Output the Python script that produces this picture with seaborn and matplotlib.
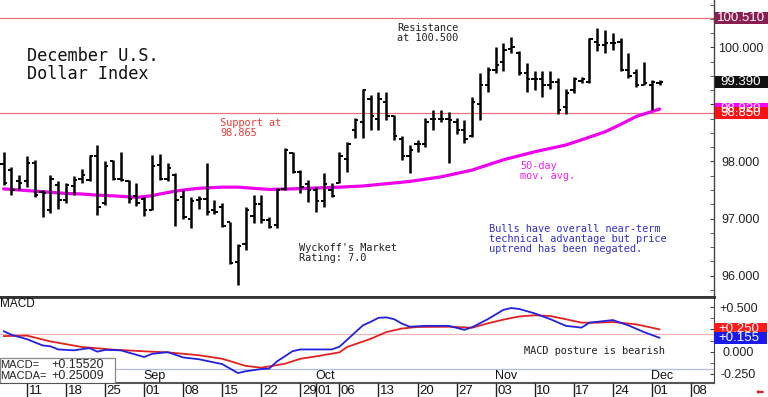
import numpy as np
import pandas as pd
import matplotlib
matplotlib.use("Agg")
import matplotlib.pyplot as plt
import matplotlib.transforms as mtransforms
from matplotlib.patches import Rectangle
from matplotlib.ticker import MultipleLocator
import seaborn as sns

# daily bars, Aug 6 .. Dec 2 2025
days = pd.bdate_range("2025-08-06", "2025-12-02")
opens = [97.95, 97.85, 97.66, 97.65, 97.97, 97.47, 97.15, 97.59, 97.33, 97.57,
         97.70, 97.68, 98.09, 97.27, 98.00, 97.70, 97.66, 97.39, 97.34, 97.15,
         97.94, 97.70, 97.76, 97.38, 97.00, 97.33, 97.35, 97.15, 97.21, 96.93,
         96.24, 96.55, 97.05, 97.25, 96.97, 96.88, 97.52, 98.15, 97.82, 97.60,
         97.50, 97.30, 97.50, 97.63, 98.05, 98.55, 98.70, 99.10, 98.75, 99.05,
         98.80, 98.40, 98.10, 98.30, 98.30, 98.75, 98.75, 98.75, 98.70, 98.55,
         98.45, 99.00, 99.35, 99.60, 99.75, 99.98, 99.90, 99.55, 99.45, 99.45,
         99.35, 99.40, 98.95, 99.25, 99.42, 99.40, 100.10, 100.05, 100.07, 100.10,
         99.60, 99.55, 99.35, 99.35, 99.38]
highs = [98.17, 97.90, 97.76, 98.09, 98.03, 97.50, 97.76, 97.65, 97.63, 97.75,
         97.86, 98.11, 98.29, 98.00, 98.03, 98.17, 97.68, 97.62, 97.37, 98.11,
         98.14, 97.97, 97.79, 97.50, 97.37, 97.39, 97.98, 97.33, 97.27, 96.94,
         96.55, 97.21, 97.41, 97.41, 97.03, 97.54, 98.24, 98.17, 97.85, 97.68,
         97.55, 97.80, 97.62, 98.17, 98.34, 98.76, 99.28, 99.17, 99.22, 99.22,
         98.82, 98.44, 98.29, 98.38, 98.76, 98.90, 98.90, 98.87, 98.76, 98.73,
         99.14, 99.55, 99.66, 100.01, 100.07, 100.19, 99.93, 99.72, 99.58, 99.58,
         99.58, 99.46, 99.28, 99.49, 99.48, 100.16, 100.34, 100.31, 100.25, 100.16,
         99.90, 99.63, 99.75, 99.43, 99.43]
lows = [97.59, 97.41, 97.50, 97.56, 97.37, 97.03, 97.10, 97.16, 97.28, 97.41,
        97.63, 97.65, 97.06, 97.24, 97.68, 97.65, 97.27, 97.22, 97.04, 97.15,
        97.68, 97.65, 96.87, 97.00, 96.83, 97.16, 97.06, 97.08, 96.85, 96.21,
        95.83, 96.45, 96.92, 96.92, 96.83, 96.83, 97.50, 97.80, 97.45, 97.29,
        97.11, 97.20, 97.38, 97.62, 97.82, 98.41, 98.41, 98.55, 98.55, 98.73,
        98.38, 98.03, 97.79, 98.17, 98.26, 98.55, 98.70, 97.97, 98.49, 98.32,
        98.43, 98.73, 99.22, 99.55, 99.58, 99.90, 99.52, 99.22, 99.25, 99.14,
        99.28, 98.84, 98.84, 99.20, 99.37, 99.37, 99.93, 99.90, 99.96, 99.58,
        99.46, 99.31, 99.34, 98.91, 99.34]
closes = [97.62, 97.50, 97.63, 97.98, 97.41, 97.44, 97.70, 97.33, 97.59, 97.68,
          97.76, 98.09, 97.21, 97.92, 97.70, 97.68, 97.34, 97.27, 97.15, 97.92,
          97.70, 97.88, 97.33, 97.02, 97.30, 97.35, 97.12, 97.12, 96.86, 96.22,
          96.51, 97.15, 97.25, 96.97, 96.85, 97.50, 98.20, 97.82, 97.55, 97.50,
          97.30, 97.60, 97.40, 98.10, 98.30, 98.72, 99.25, 98.80, 99.10, 98.80,
          98.45, 98.10, 98.20, 98.30, 98.70, 98.75, 98.75, 98.73, 98.55, 98.40,
          99.05, 99.35, 99.60, 99.70, 99.95, 100.00, 99.55, 99.45, 99.45, 99.35,
          99.40, 98.90, 99.20, 99.45, 99.45, 100.15, 100.05, 100.07, 100.07, 99.60,
          99.50, 99.35, 99.38, 99.40, 99.39]

# 50-day moving average, read at some bar numbers
ma_day = [0, 3, 5, 8, 10, 12, 15, 17, 19, 20, 22, 23, 25, 28, 30, 32, 34, 37, 39,
          43, 46, 49, 52, 54, 56, 58, 60, 62, 64, 66, 68, 70, 72, 74, 77, 79, 81, 84]
ma_val = [97.52, 97.49, 97.47, 97.44, 97.43, 97.41, 97.39, 97.37, 97.40, 97.43,
          97.48, 97.50, 97.53, 97.55, 97.55, 97.53, 97.51, 97.52, 97.53,
          97.55, 97.57, 97.61, 97.65, 97.69, 97.73, 97.79, 97.85, 97.94, 98.03,
          98.10, 98.17, 98.23, 98.29, 98.38, 98.52, 98.65, 98.79, 98.92]

# MACD (blue) and its average (red)
macd_day = [0, 1, 3, 5, 6, 7, 9, 11, 12, 13, 15, 18, 19, 21, 23, 25, 28, 30, 31, 33,
            34, 35, 37, 38, 42, 43, 44, 46, 47, 48, 49, 50, 51, 52, 54, 57, 59, 60,
            62, 64, 65, 66, 68, 70, 72, 74, 75, 78, 80, 82, 84]
macd_val = [0.23, 0.19, 0.14, 0.07, 0.06, 0.025, 0.015, 0.04, 0.0, 0.02, 0.015, -0.06,
            -0.025, -0.005, -0.065, -0.085, -0.14, -0.24, -0.22, -0.195, -0.19, -0.11,
            0.005, 0.025, 0.025, 0.055, 0.135, 0.295, 0.335, 0.38, 0.385, 0.365, 0.315,
            0.28, 0.29, 0.29, 0.245, 0.275, 0.365, 0.47, 0.49, 0.48, 0.43, 0.365, 0.29,
            0.27, 0.325, 0.355, 0.295, 0.22, 0.155]
sig_day = [0, 3, 6, 10, 14, 18, 21, 25, 28, 31, 33, 36, 38, 40, 43, 44, 47, 49, 51,
           53, 57, 60, 62, 64, 66, 68, 70, 72, 74, 76, 78, 81, 84]
sig_val = [0.175, 0.18, 0.115, 0.053, 0.023, 0.004, -0.008, -0.04, -0.08, -0.16, -0.18,
           -0.136, -0.08, -0.053, -0.008, 0.053, 0.144, 0.22, 0.26, 0.277, 0.28, 0.269,
           0.318, 0.36, 0.395, 0.409, 0.40, 0.364, 0.326, 0.326, 0.333, 0.307, 0.25]

resistance = 100.51
support = 98.85
last_close = 99.39
price_ticks = [96, 97, 98, 99, 100]
price_tick_labels = ["96.000", "97.000", "98.000", "", "100.000"]  # 99 sits under the boxes
macd_ticks = [0.5, 0.25, 0.0, -0.25]
macd_tick_labels = ["+0.500", "", "0.000", "-0.250"]

sns.set_style("white")
plt.rcParams["font.family"] = ["Liberation Sans", "DejaVu Sans"]
MONO = "DejaVu Sans Mono"

W, H = 768, 397
fig = plt.figure(figsize=(W / 100, H / 100), dpi=100)
axw = 714 / W
ax = fig.add_axes([0, 1 - 297 / H, axw, 297 / H])
mx = fig.add_axes([0, 1 - 383 / H, axw, 86 / H])
dx = fig.add_axes([0, 0, axw, 14 / H])

x = np.arange(len(days))
xlim = (-0.46, 90.96)

# price bars
ax.vlines(x, lows, highs, color="black", lw=1.8, zorder=3)
ax.hlines(opens, x - 0.42, x, color="black", lw=1.4, zorder=3)
ax.hlines(closes, x, x + 0.42, color="black", lw=1.4, zorder=3)
sns.lineplot(x=ma_day, y=ma_val, ax=ax, color="#ee00ee", lw=2.3, zorder=2)
ax.axhline(resistance, color="#e8707c", lw=0.9, zorder=1)
ax.axhline(support, color="#e8707c", lw=0.9, zorder=1)

ax.set_xlim(xlim)
ax.set_ylim(95.623, 100.833)
ax.set_xticks([])
ax.set_xlabel("")
ax.set_ylabel("")
ax.yaxis.tick_right()
ax.set_yticks(price_ticks)
ax.set_yticklabels(price_tick_labels)
ax.yaxis.set_minor_locator(MultipleLocator(0.25))
ax.tick_params(axis="y", which="both", direction="in", length=3, color="#444",
               labelsize=9, labelcolor="#222", pad=19)
for lab in ax.get_yticklabels():
    lab.set_ha("center")
for s in ["left", "top"]:
    ax.spines[s].set_visible(False)
ax.spines["right"].set_color("#444")
ax.spines["right"].set_linewidth(1.0)
ax.spines["bottom"].set_color("#333")
ax.spines["bottom"].set_linewidth(2.0)

# value boxes on the price scale
btr = mtransforms.blended_transform_factory(ax.transAxes, ax.transData)
bw = 53 / 714
bh = 12 / 57
for val, txt, fc in [(resistance, "100.510", "#8c1d50"),
                     (last_close, "99.390", "#111111"),
                     (ma_val[-1], "98.920", "#ff00ff"),
                     (support, "98.850", "#ff1010")]:
    ax.add_patch(Rectangle((1.0015, val - bh / 2), bw, bh, transform=btr, fc=fc,
                           ec="none", clip_on=False, zorder=6))
    ax.text(1 + 27 / 714, val, txt, transform=btr, ha="center", va="center",
            color="white", fontsize=9.5, clip_on=False, zorder=7)

# MACD panel
mx.axhline(0.2, color="#f5b0b8", lw=0.9)
mx.axhline(-0.2, color="#b8b8f0", lw=0.9)
sns.lineplot(x=sig_day, y=sig_val, ax=mx, color="#e02222", lw=1.3)
sns.lineplot(x=macd_day, y=macd_val, ax=mx, color="#2222dd", lw=1.3)
mx.set_xlim(xlim)
mx.set_ylim(-0.352, 0.614)
mx.set_xticks([])
mx.set_xlabel("")
mx.set_ylabel("")
mx.yaxis.tick_right()
mx.set_yticks(macd_ticks)
mx.set_yticklabels(macd_tick_labels)
mx.yaxis.set_minor_locator(MultipleLocator(0.125))
mx.tick_params(axis="y", which="both", direction="in", length=3, color="#444",
               labelsize=9, labelcolor="#222", pad=17.5)
for lab in mx.get_yticklabels():
    lab.set_ha("center")
mx.spines["left"].set_visible(False)
mx.spines["top"].set_color("#333")
mx.spines["top"].set_linewidth(2.0)
mx.spines["bottom"].set_color("#555")
mx.spines["bottom"].set_linewidth(1.5)
mx.spines["right"].set_color("#444")

mtr = mtransforms.blended_transform_factory(mx.transAxes, mx.transData)
mh = 12 / 88
for val, txt, fc in [(sig_val[-1], "+0.250", "#ff1a1a"), (macd_val[-1], "+0.155", "#1a1aee")]:
    mx.add_patch(Rectangle((1.0, val - mh / 2), bw, mh, transform=mtr, fc=fc,
                           ec="none", clip_on=False, zorder=6))
    mx.text(1 + 25 / 714, val, txt, transform=mtr, ha="center", va="center",
            color="white", fontsize=9.5, clip_on=False, zorder=7)

mx.text(0.0, 0.985, "MACD", transform=mx.transAxes, ha="left", va="top",
        fontsize=8.5, color="#111")
mx.add_patch(Rectangle((0, 0), 115 / 714, 25 / 86, transform=mx.transAxes,
                       fc="white", ec="#888", lw=0.9, zorder=5))
mx.text(0.0, 18 / 86, "MACD=", transform=mx.transAxes, va="center", fontsize=8, zorder=6)
mx.text(51 / 714, 18 / 86, "+0.15520", transform=mx.transAxes, va="center",
        fontsize=9, zorder=6)
mx.text(0.0, 7 / 86, "MACDA=", transform=mx.transAxes, va="center", fontsize=8, zorder=6)
mx.text(51 / 714, 7 / 86, "+0.25009", transform=mx.transAxes, va="center",
        fontsize=9, zorder=6)

# date strip
start = np.datetime64(days[0].date())
mondays = pd.date_range("2025-08-11", "2025-12-08", freq="W-MON")
tick_dates = sorted(list(mondays) + [pd.Timestamp("2025-10-01")])
tick_pos = [np.busday_count(start, np.datetime64(d.date())) for d in tick_dates]
dx.vlines(tick_pos, 0, 1, color="#222", lw=1.0)
for p, d in zip(tick_pos, tick_dates):
    dx.text(p + 0.2, 0.4, d.strftime("%d"), ha="left", va="center", fontsize=9.5,
            color="#111")
dx.set_xlim(xlim)
dx.set_ylim(0, 1)
dx.axis("off")

months = [("Sep", "2025-09-01"), ("Oct", "2025-10-01"), ("Nov", "2025-11-03"),
          ("Dec", "2025-12-01")]
for name, d in months:
    p = np.busday_count(start, np.datetime64(d))
    mx.text(p - 0.1, -0.34, name, ha="left", va="bottom", fontsize=9, color="#111")

# annotations
def ftext(px, py, s, **kw):
    fig.text(px / W, 1 - py / H, s, va="top", ha="left", family=MONO,
             linespacing=1.0, **kw)

ftext(27, 47, "December U.S.\nDollar Index", fontsize=12.2, color="#111")
ftext(397, 23, "Resistance\nat 100.500", fontsize=7.4, color="#222")
ftext(220, 118, "Support at\n98.865", fontsize=7.4, color="#f03838")
ftext(299, 243, "Wyckoff's Market\nRating: 7.0", fontsize=7.4, color="#222")
ftext(520, 161, "50-day\nmov. avg.", fontsize=7.4, color="#ee22ee")
ftext(489, 224, "Bulls have overall near-term\ntechnical advantage but price\n"
      "uptrend has been negated.", fontsize=7.4, color="#3030cc")
ftext(524, 346, "MACD posture is bearish", fontsize=7.4, color="#222")
fig.text(760 / W, 1 - 392 / H, "\u2b05", ha="center", va="center", fontsize=7,
         color="#e02020", family="DejaVu Sans")

fig.savefig("out.png", dpi=100)
